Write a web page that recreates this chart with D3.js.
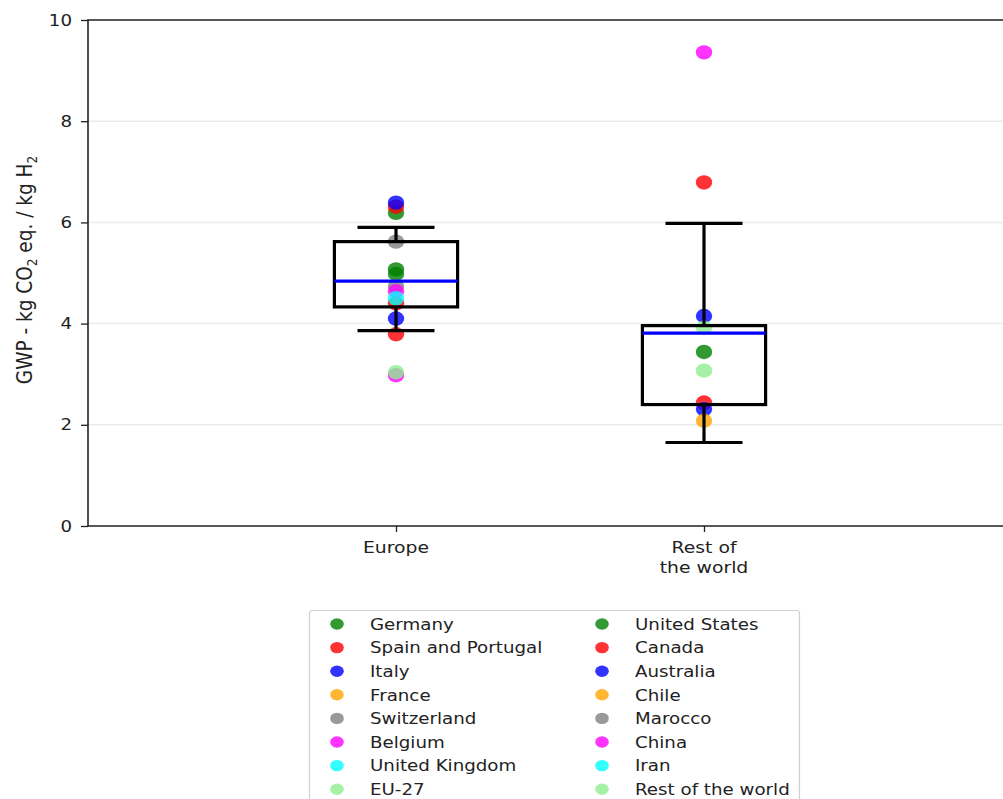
<!DOCTYPE html>
<html>
<head>
<meta charset="utf-8">
<script src="https://cdn.jsdelivr.net/npm/d3@7"></script>
<style>
  html, body { margin: 0; padding: 0; background: #fff; }
  svg { display: block; font-family: "DejaVu Sans", sans-serif; }
</style>
</head>
<body>
<svg id="chart" width="1003" height="799"></svg>
<script>
// Regions shown on the x axis
const regions = ["Europe", "Rest of\nthe world"];

// Country names (legend columns) and marker colours shared by both columns
const europeCountries = ["Germany", "Spain and Portugal", "Italy", "France", "Switzerland", "Belgium", "United Kingdom", "EU-27"];
const worldCountries = ["United States", "Canada", "Australia", "Chile", "Marocco", "China", "Iran", "Rest of the world"];
const markerColors = ["green", "red", "blue", "orange", "gray", "magenta", "cyan", "lightgreen"];

// GWP values (kg CO2 eq. / kg H2) per country, same order as the names above
const europeValues = [[6.19, 5.07, 4.98], [6.31, 4.40, 3.79], [6.39, 4.10], [], [5.62, 4.74], [4.64, 2.98], [4.50], [3.04]];
const worldValues = [[3.44], [6.79, 2.44], [4.15, 2.31], [2.08], [], [9.36], [], [3.92, 3.07]];

// Box statistics per region
const whiskerLow = [3.86, 1.65];
const boxLow = [4.33, 2.40];
const boxMedian = [4.84, 3.81];
const boxHigh = [5.62, 3.96];
const whiskerHigh = [5.90, 5.98];

const yTicks = [0, 2, 4, 6, 8, 10];

const svg = d3.select("#chart");
const plotLeft = 88, plotRight = 1012, plotTop = 20, plotBottom = 526;
const textWiden = 1.14;   // wide text rendering
const fontSize = 16;

const x = d3.scaleLinear().domain([0, 3]).range([plotLeft, plotRight]);
const y = d3.scaleLinear().domain([0, 10]).range([plotBottom, plotTop]);

// Grid lines
svg.append("g").selectAll("line").data(yTicks.filter(t => t > 0 && t < 10)).join("line")
  .attr("x1", plotLeft).attr("x2", plotRight)
  .attr("y1", d => y(d)).attr("y2", d => y(d))
  .attr("stroke", "#ebebeb").attr("stroke-width", 1.5);

// Axes
const yAxis = svg.append("g").attr("transform", `translate(${plotLeft},0)`)
  .call(d3.axisLeft(y).tickValues(yTicks).tickSize(7).tickPadding(7).tickFormat(d3.format("d")));
yAxis.select(".domain").remove();
yAxis.selectAll("text")
  .attr("font-size", fontSize).attr("fill", "#222").attr("font-family", "DejaVu Sans")
  .attr("transform", `scale(${textWiden},1)`);
yAxis.selectAll("line").attr("stroke", "#222").attr("stroke-width", 1.3);

const xAxis = svg.append("g").attr("transform", `translate(0,${plotBottom})`)
  .call(d3.axisBottom(x).tickValues([1, 2]).tickSize(6).tickFormat(""));
xAxis.select(".domain").remove();
xAxis.selectAll("line").attr("stroke", "#222").attr("stroke-width", 1.3);

regions.forEach((r, i) => {
  const t = svg.append("text")
    .attr("transform", `translate(${x(i + 1)},553) scale(${textWiden},1)`)
    .attr("text-anchor", "middle").attr("font-size", 16.5).attr("fill", "#222");
  r.split("\n").forEach((line, k) => {
    t.append("tspan").attr("x", 0).attr("dy", k === 0 ? 0 : 20).text(line);
  });
});

// Spines
svg.append("path")
  .attr("d", `M${plotRight},${plotTop}H${plotLeft}V${plotBottom}H${plotRight}`)
  .attr("fill", "none").attr("stroke", "#222").attr("stroke-width", 1.6);

// Y axis label
const yl = svg.append("text")
  .attr("transform", `translate(32,${(plotTop + plotBottom) / 2 - 3}) scale(${textWiden},1) rotate(-90)`)
  .attr("text-anchor", "middle").attr("font-size", 18.5).attr("fill", "#222");
yl.append("tspan").text("GWP - kg CO");
yl.append("tspan").attr("font-size", 12).attr("dy", 4).text("2");
yl.append("tspan").attr("dy", -4).text(" eq. / kg H");
yl.append("tspan").attr("font-size", 12).attr("dy", 4).text("2");

// Points (drawn first, boxes on top)
const points = [];
[europeValues, worldValues].forEach((vals, ri) => {
  vals.forEach((arr, ci) => arr.forEach(v => points.push({ region: ri + 1, color: markerColors[ci], value: v })));
});
svg.append("g").selectAll("ellipse").data(points).join("ellipse")
  .attr("cx", d => x(d.region)).attr("cy", d => y(d.value))
  .attr("rx", 8.2).attr("ry", 7.2)
  .attr("fill", d => d.color).attr("fill-opacity", 0.8);

// Box plots
const boxHalf = (x(1.2) - x(1));
const capHalf = (x(1.125) - x(1));
const bp = svg.append("g").attr("stroke-width", 3.2).attr("fill", "none");
regions.forEach((r, i) => {
  const cx = x(i + 1);
  bp.append("line").attr("x1", cx).attr("x2", cx).attr("y1", y(whiskerLow[i])).attr("y2", y(boxLow[i])).attr("stroke", "#000");
  bp.append("line").attr("x1", cx).attr("x2", cx).attr("y1", y(boxHigh[i])).attr("y2", y(whiskerHigh[i])).attr("stroke", "#000");
  bp.append("line").attr("x1", cx - capHalf).attr("x2", cx + capHalf).attr("y1", y(whiskerLow[i])).attr("y2", y(whiskerLow[i])).attr("stroke", "#000");
  bp.append("line").attr("x1", cx - capHalf).attr("x2", cx + capHalf).attr("y1", y(whiskerHigh[i])).attr("y2", y(whiskerHigh[i])).attr("stroke", "#000");
  bp.append("rect").attr("x", cx - boxHalf).attr("width", 2 * boxHalf)
    .attr("y", y(boxHigh[i])).attr("height", y(boxLow[i]) - y(boxHigh[i])).attr("stroke", "#000");
  bp.append("line").attr("x1", cx - boxHalf).attr("x2", cx + boxHalf).attr("y1", y(boxMedian[i])).attr("y2", y(boxMedian[i])).attr("stroke", "#0000ff");
});

// Legend
const lg = svg.append("g");
lg.append("rect").attr("x", 309.5).attr("y", 610.5).attr("width", 490).attr("height", 220)
  .attr("rx", 3).attr("fill", "#fff").attr("stroke", "#d0d0d0").attr("stroke-width", 1.2);
[europeCountries, worldCountries].forEach((names, col) => {
  names.forEach((n, k) => {
    const cy = 624 + k * 23.6;
    lg.append("ellipse").attr("cx", 337 + col * 265).attr("cy", cy).attr("rx", 6.8).attr("ry", 5.7)
      .attr("fill", markerColors[k]).attr("fill-opacity", 0.8);
    lg.append("text").attr("transform", `translate(${370 + col * 265},${cy}) scale(${textWiden},1)`)
      .attr("dy", "0.36em")
      .attr("font-size", fontSize).attr("fill", "#222").text(n);
  });
});
</script>
</body>
</html>
